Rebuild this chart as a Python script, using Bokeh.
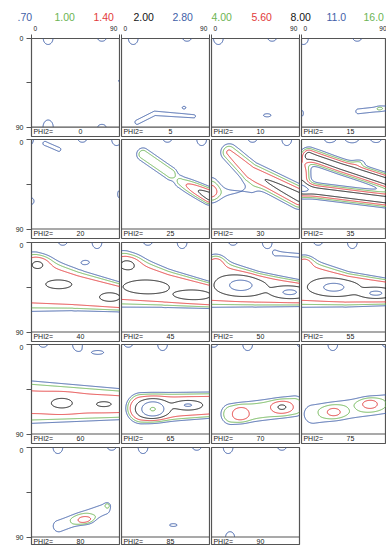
import numpy as np
from bokeh.plotting import figure
from bokeh.layouts import column, row
from bokeh.models import Range1d, FixedTicker, Span, LinearAxis
from bokeh.core.properties import value
from bokeh.embed import file_html
from bokeh.resources import INLINE

# ---------------- data ----------------
PHI2_SECTIONS = [0, 5, 10, 15, 20, 25, 30, 35, 40, 45, 50, 55, 60, 65, 70, 75, 80, 85, 90]
LEVELS = [0.70, 1.00, 1.40, 2.00, 2.80, 4.00, 5.60, 8.00, 11.0, 16.0]
LEVEL_LABELS = [".70", "1.00", "1.40", "2.00", "2.80", "4.00", "5.60", "8.00", "11.0", "16.0"]
TOP_TICK_LABELS = ["0", "90"]
LEFT_TICK_LABELS = ["0", "", "90"]
BACKGROUND_LEVEL = 0.25


def pt(phi1, Phi, amp, s1, s2, shape=1):
    """isolated peak: centre (phi1, Phi), intensity, spreads"""
    return ("pt", [(phi1, Phi, amp, s1, s2)], shape)


def ln(vertices, shape=1):
    """ridge / band through vertices (phi1, Phi, intensity, width)"""
    return ("ln", vertices, shape)


# texture components read from each section
COMPONENTS = {
    0: [pt(17, 0, .6, 6.5, 8), pt(72, 0, .5, 9, 6), pt(17, 90, .62, 6.5, 9),
        pt(72, 90, .5, 9, 6), pt(90, 43, .48, 2.5, 3)],
    5: [pt(12, 0, .6, 6.5, 8), pt(67, 0, .5, 9, 6),
        ln([(16, 85, .55, 3.5), (34, 76, .55, 3.5), (74, 79, .5, 3.5)]), pt(64, 70, .5, 3, 2)],
    10: [pt(7, 0, .6, 6.5, 8), pt(62, 0, .5, 9, 6), pt(57, 78, .55, 6, 2.5)],
    15: [pt(2, 0, .6, 6.5, 8), pt(92, 0, .6, 6.5, 8), pt(57, 0, .5, 9, 6),
         ln([(58, 74, .6, 3.2), (86, 71, .6, 3.2)]), pt(80, 71, .3, 2.5, 1.5), pt(0, 76, .55, 3, 5)],
    20: [pt(87, 0, .6, 6.5, 8), pt(-3, 0, .6, 6.5, 8), pt(52, 0, .5, 9, 6),
         ln([(14, 4, .55, 3), (28, 10, .55, 3)]), pt(0, 62, .55, 4, 5), pt(90, 55, .55, 3, 6)],
    25: [pt(82, 0, .6, 6.5, 8), pt(47, 0, .5, 9, 6),
         ln([(22, 15, 1.05, 5), (50, 34, 1.05, 5)]), ln([(61, 43, .9, 5), (90, 57, 2.3, 5)])],
    30: [pt(77, 0, .6, 6.5, 8), pt(42, 0, .5, 9, 6),
         ln([(18, 13, 1.25, 6), (40, 33, 1.6, 7), (90, 58, 2.1, 7)]),
         pt(0, 50, 1.0, 6, 9), ln([(0, 54, .55, 6), (40, 52, .4, 6)])],
    35: [pt(28, 0, .5, 9, 6), pt(52, 0, .5, 9, 6), pt(77, 0, .5, 9, 6), pt(59, 23, .55, 5, 2.5),
         ln([(8, 16, 2.0, 4.7), (40, 27, 2.1, 4.7), (90, 43, 2.2, 4.7)]),
         ln([(0, 50, 2.2, 4.7), (90, 61, 2.2, 4.7)]), pt(0, 35, 1.6, 6, 12)],
    40: [pt(67, 0, .6, 6.5, 8), pt(32, 0, .5, 9, 6),
         ln([(0, 40, 1.55, 20), (45, 48, 1.55, 14), (90, 55, 1.55, 10)], 2),
         pt(8, 20, .7, 8, 5), pt(28, 42, .6, 9, 3), pt(80, 55, .6, 7, 3), pt(55, 20, .55, 6, 3)],
    45: [pt(62, 0, .6, 6.5, 8), pt(27, 0, .5, 9, 6),
         ln([(0, 37, 1.6, 19), (45, 46, 1.6, 13), (90, 53, 1.6, 9)], 2),
         pt(8, 20, .6, 8, 5), pt(25, 45, .8, 13, 4), pt(72, 53, .7, 11, 3)],
    50: [pt(57, 0, .6, 6.5, 8), pt(22, 0, .5, 9, 6),
         ln([(0, 40, 1.6, 17), (45, 47, 1.6, 12), (90, 51, 1.6, 9)], 2),
         pt(6, 19, .7, 6, 5), pt(30, 43, 1.4, 13, 6), pt(80, 50, 1.2, 10, 3.5),
         ln([(66, 11, .55, 3), (90, 13, .55, 3)])],
    55: [pt(52, 0, .6, 6.5, 8), pt(17, 0, .5, 9, 6),
         ln([(0, 40, 1.6, 17), (45, 47, 1.6, 12), (90, 50, 1.6, 9)], 2),
         pt(4, 19, .6, 6, 4), pt(33, 45, 1.3, 13, 5), pt(76, 51, 1.2, 9, 3)],
    60: [pt(47, 0, .6, 6.5, 8), pt(12, 0, .5, 9, 6), pt(68, 8, .55, 9, 3),
         ln([(0, 58, 1.25, 15), (90, 60, 1.25, 11)], 2), pt(31, 59, .8, 11, 5), pt(74, 60, .7, 9, 3)],
    65: [pt(42, 0, .6, 6.5, 8), pt(7, 0, .5, 9, 6),
         ln([(20, 64, 1.45, 10.5), (90, 61, 1.45, 9)], 2), pt(32, 65, 2.4, 9, 6), pt(68, 61, 1.2, 9, 3)],
    70: [pt(37, 0, .6, 6.5, 8), pt(2, 0, .5, 9, 6), pt(92, 0, .5, 9, 6),
         ln([(20, 70, .9, 8), (85, 62, .9, 8)], 2), pt(30, 70, .7, 6, 5), pt(72, 63, 1.0, 7, 4)],
    75: [pt(32, 0, .6, 6.5, 8), pt(87, 0, .5, 9, 6),
         ln([(12, 70, .7, 8), (85, 60, .7, 8)], 2), pt(33, 68, .7, 7, 4), pt(70, 60, .8, 7, 4)],
    80: [pt(27, 0, .6, 6.5, 8), pt(82, 0, .5, 9, 6),
         ln([(28, 79, .7, 5), (75, 62, .6, 5)], 2), pt(55, 73, .85, 7, 3.5), pt(78, 58, .5, 2, 2)],
    85: [pt(22, 0, .6, 6.5, 8), pt(77, 0, .5, 9, 6), pt(53, 78, .55, 6, 2.2)],
    90: [pt(17, 0, .6, 6.5, 8), pt(72, 0, .5, 9, 6), pt(19, 90, .6, 6, 7)],
}

# ---------------- styles / layout ----------------
BLUE, GREEN, RED, BLACK = "#3f5fa8", "#6cb453", "#e23a3a", "#151515"
LEVEL_COLORS = [BLUE, GREEN, RED, BLACK, BLUE, GREEN, RED, BLACK, BLUE, GREEN]
FONT = "Liberation Sans"
FRAME_COLOR = "#555555"
PX_PER_UNIT_X = 88 / 90
PX_PER_UNIT_Y = 89.5 / 90
LEFT_PAD = 31
COL_GAP = 2
TOP_PAD = 15
ROW_GAPS = [3, 4, 3, 4, 0]
LEGEND_H = 22
TOTAL_W = 386
LEGEND_TEXT_X = [17, 54, 93, 133, 172, 211, 251, 290, 326, 363]

GRID = np.linspace(0, 90, 181)


def section_field(components):
    X, Y = np.meshgrid(GRID, GRID)
    Z = np.full_like(X, BACKGROUND_LEVEL)
    for kind, verts, shape in components:
        if kind == "pt":
            x0, y0, a0, s1, s2 = verts[0]
            d2 = ((X - x0) / s1) ** 2 + ((Y - y0) / s2) ** 2
            amp = a0
        else:
            d2 = np.full_like(X, np.inf)
            amp = np.zeros_like(X)
            for (xa, ya, aa, sa), (xb, yb, ab, sb) in zip(verts[:-1], verts[1:]):
                dx, dy = xb - xa, yb - ya
                t = np.clip(((X - xa) * dx + (Y - ya) * dy) / (dx * dx + dy * dy), 0, 1)
                s = sa + (sb - sa) * t
                ds = ((X - xa - t * dx) ** 2 + (Y - ya - t * dy) ** 2) / s ** 2
                better = ds < d2
                d2 = np.where(better, ds, d2)
                amp = np.where(better, aa + (ab - aa) * t, amp)
        Z += amp * np.exp(-(d2 / 2.0) ** shape)
    return Z


def make_panel(i, phi2):
    r, c = divmod(i, 4)
    fw = 88 if c < 3 else 85
    fh = 99 if r < 4 else 98
    left = LEFT_PAD if c == 0 else 0
    right = COL_GAP if c < 3 else 0
    top = TOP_PAD if r == 0 else 0
    p = figure(width=left + fw + right, height=top + fh + ROW_GAPS[r],
               x_range=Range1d(0, fw / PX_PER_UNIT_X), y_range=Range1d(fh / PX_PER_UNIT_Y, 0),
               x_axis_location=None, y_axis_location=None,
               output_backend="svg", toolbar_location=None, tools="",
               min_border_left=left, min_border_right=right, min_border_top=top,
               min_border_bottom=ROW_GAPS[r])
    p.xgrid.visible = False
    p.ygrid.visible = False
    p.outline_line_color = FRAME_COLOR
    p.outline_line_width = 1.2
    p.background_fill_color = "white"
    p.border_fill_color = "white"

    if c == 0:
        yax = LinearAxis(ticker=FixedTicker(ticks=[0, 45, 90]),
                         major_label_overrides={0: LEFT_TICK_LABELS[0], 45: LEFT_TICK_LABELS[1],
                                                90: LEFT_TICK_LABELS[2]})
        yax.axis_line_color = None
        yax.major_tick_out = 5
        yax.major_tick_in = 0
        yax.major_tick_line_color = FRAME_COLOR
        yax.minor_tick_line_color = None
        yax.major_label_standoff = 3
        yax.major_label_text_font = FONT
        yax.major_label_text_font_size = "7px"
        yax.major_label_text_color = "#222222"
        p.add_layout(yax, "left")
    if r == 0:
        xax = LinearAxis(ticker=FixedTicker(ticks=[4, 84], minor_ticks=[0, 90]),
                         major_label_overrides={4: TOP_TICK_LABELS[0], 84: TOP_TICK_LABELS[1]})
        xax.axis_line_color = None
        xax.major_tick_out = 0
        xax.major_tick_in = 0
        xax.major_tick_line_color = None
        xax.minor_tick_out = 4
        xax.minor_tick_in = 0
        xax.minor_tick_line_color = FRAME_COLOR
        xax.major_label_standoff = 4
        xax.major_label_text_font = FONT
        xax.major_label_text_font_size = "6.5px"
        xax.major_label_text_color = "#222222"
        p.add_layout(xax, "above")

    Z = section_field(COMPONENTS[phi2])
    p.contour(GRID, GRID, Z, levels=LEVELS, line_color=LEVEL_COLORS, line_width=1,
              fill_color=None)

    p.add_layout(Span(location=90, dimension="width", line_color=FRAME_COLOR, line_width=1.2))
    p.text(x=[2], y=[94.7], text=["PHI2="], text_font=value(FONT), text_font_size="7px",
           text_baseline="middle", text_align="left", text_color="#222222")
    p.text(x=[50], y=[94.7], text=[str(phi2)], text_font=value(FONT), text_font_size="7px",
           text_baseline="middle", text_align="center", text_color="#222222")
    return p, r


# legend strip
leg = figure(width=TOTAL_W, height=LEGEND_H, x_range=Range1d(0, TOTAL_W), y_range=Range1d(LEGEND_H, 0),
             x_axis_location=None, y_axis_location=None, output_backend="svg",
             toolbar_location=None, tools="", min_border=0)
leg.xgrid.visible = False
leg.ygrid.visible = False
leg.outline_line_color = None
leg.text(x=LEGEND_TEXT_X, y=[16] * len(LEVEL_LABELS),
         text=LEVEL_LABELS, text_color=LEVEL_COLORS, text_font=value(FONT),
         text_font_size="10.5px", text_baseline="middle", text_align="left")

rows = [[] for _ in range(5)]
for i, phi2 in enumerate(PHI2_SECTIONS):
    fig, r = make_panel(i, phi2)
    rows[r].append(fig)

layout = column(leg, *[row(*figs) for figs in rows])
open("out.html", "w").write(file_html(layout, INLINE))
